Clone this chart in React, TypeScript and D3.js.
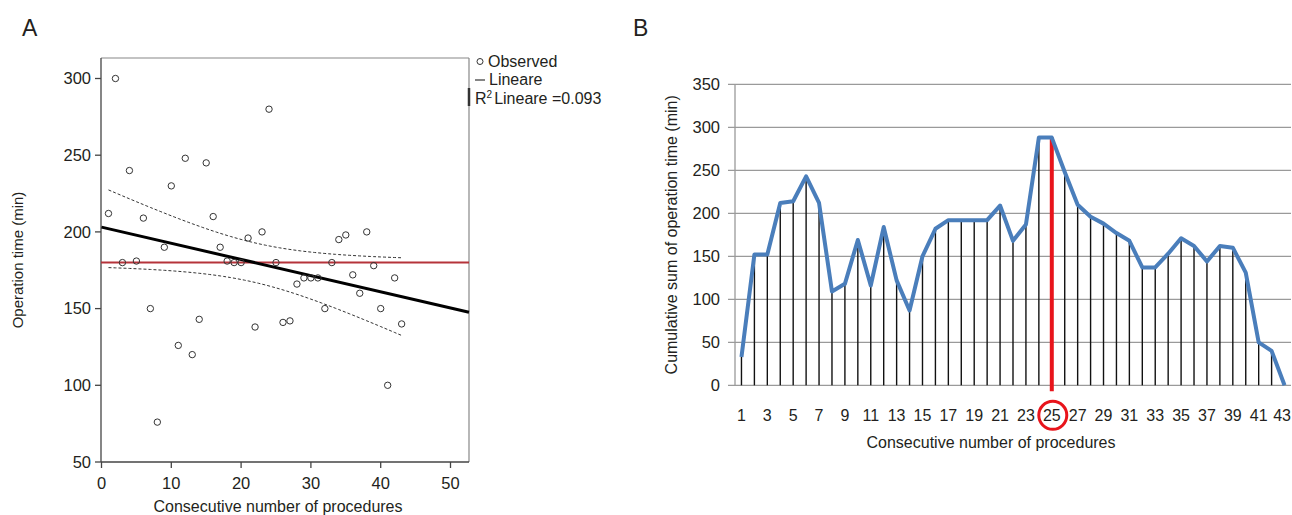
import React from 'react';
import * as d3 from 'd3';

// Panel A: observed operation time per consecutive procedure
const procedureNo = d3.range(1, 44);
const operationTime = [
  212, 300, 180, 240, 181, 209, 150, 76, 190, 230,
  126, 248, 120, 143, 245, 210, 190, 181, 180, 180,
  196, 138, 200, 280, 180, 141, 142, 166, 170, 170,
  170, 150, 180, 195, 198, 172, 160, 200, 178, 150,
  100, 170, 140,
];
const meanLine = 180;
const xTicksA = [0, 10, 20, 30, 40, 50];
const yTicksA = [50, 100, 150, 200, 250, 300];
const legendA = ['Observed', 'Lineare'];
const r2Text = 'Lineare =0.093';

// Panel B: cumulative sum of operation time
const cusum = [
  33, 152, 152, 212, 214, 243, 212, 109, 118, 169,
  116, 184, 122, 87, 150, 182, 192, 192, 192, 192,
  209, 168, 187, 288, 288, 248, 210, 196, 188, 177,
  168, 137, 137, 153, 171, 162, 144, 162, 160, 131,
  50, 40, 0,
];
const yTicksB = [0, 50, 100, 150, 200, 250, 300, 350];
const cutoffProcedure = 25;

const FONT = '"Liberation Sans", Arial, sans-serif';
const TXT = '#231f20';

// simple least squares fit + 95% CI of the mean
function fitLine(xs: number[], ys: number[]) {
  const n = xs.length;
  const mx = d3.mean(xs) as number;
  const my = d3.mean(ys) as number;
  let sxx = 0, sxy = 0;
  xs.forEach((x, i) => { sxx += (x - mx) ** 2; sxy += (x - mx) * (ys[i] - my); });
  const b = sxy / sxx;
  const a = my - b * mx;
  let sse = 0;
  xs.forEach((x, i) => { sse += (ys[i] - (a + b * x)) ** 2; });
  const s = Math.sqrt(sse / (n - 2));
  const t = 2.0195; // df = 41
  const half = (x: number) => t * s * Math.sqrt(1 / n + (x - mx) ** 2 / sxx);
  return { a, b, half };
}

function PanelA() {
  const left = 101, right = 469, top = 58, bottom = 462;
  const x = d3.scaleLinear().domain([0, 50]).range([101.5, 450.5]);
  const y = d3.scaleLinear().domain([50, 300]).range([462, 78.5]);
  const xMax = x.invert(right);

  const fit = fitLine(procedureNo, operationTime);
  const grid = d3.range(1, 43.01, 0.5);
  const upper = d3.line<number>().x(d => x(d)).y(d => y(fit.a + fit.b * d + fit.half(d)));
  const lower = d3.line<number>().x(d => x(d)).y(d => y(fit.a + fit.b * d - fit.half(d)));

  return (
    <g>
      <text x={22} y={36} fontSize={23} fill={TXT} fontFamily={FONT}>A</text>
      {/* frame */}
      <line x1={left} x2={right} y1={top} y2={top} stroke="#888" strokeWidth={1.2} />
      <line x1={right} x2={right} y1={top} y2={bottom} stroke="#888" strokeWidth={1.2} />
      <line x1={right} x2={right} y1={88} y2={106} stroke="#333" strokeWidth={2.5} />
      <line x1={left} x2={left} y1={top} y2={bottom} stroke="#444" strokeWidth={1.3} />
      <line x1={left} x2={right} y1={bottom} y2={bottom} stroke="#444" strokeWidth={1.3} />

      {yTicksA.map(t => (
        <g key={'ya' + t}>
          <line x1={left - 6} x2={left} y1={y(t)} y2={y(t)} stroke="#444" strokeWidth={1.3} />
          <text x={left - 10} y={y(t)} dy="0.35em" textAnchor="end" fontSize={16.5} fill={TXT} fontFamily={FONT}>{t}</text>
        </g>
      ))}
      {xTicksA.map(t => (
        <g key={'xa' + t}>
          <line x1={x(t)} x2={x(t)} y1={bottom} y2={bottom + 6} stroke="#444" strokeWidth={1.3} />
          <text x={x(t)} y={bottom + 27} textAnchor="middle" fontSize={16.5} fill={TXT} fontFamily={FONT}>{t}</text>
        </g>
      ))}

      <line x1={left} x2={right} y1={y(meanLine)} y2={y(meanLine)} stroke="#b5333a" strokeWidth={2} />

      <path d={upper(grid) || ''} fill="none" stroke="#333" strokeWidth={1} strokeDasharray="3,2" />
      <path d={lower(grid) || ''} fill="none" stroke="#333" strokeWidth={1} strokeDasharray="3,2" />
      <line x1={x(0)} x2={x(xMax)} y1={y(fit.a)} y2={y(fit.a + fit.b * xMax)} stroke="#000" strokeWidth={3} />

      {procedureNo.map((p, i) => (
        <circle key={'pt' + p} cx={x(p)} cy={y(operationTime[i])} r={3.2} fill="none" stroke="#333" strokeWidth={1} />
      ))}

      {/* legend */}
      <circle cx={480} cy={61.5} r={3} fill="none" stroke="#333" strokeWidth={1} />
      <text x={488} y={61.5} dy="0.35em" fontSize={16} fill={TXT} fontFamily={FONT}>{legendA[0]}</text>
      <line x1={475} x2={485} y1={80} y2={80} stroke="#333" strokeWidth={1.2} />
      <text x={489} y={79.5} dy="0.35em" fontSize={16} fill={TXT} fontFamily={FONT}>{legendA[1]}</text>
      <text x={475} y={98.5} dy="0.35em" fontSize={16} fill={TXT} fontFamily={FONT}>
        R<tspan fontSize={10} dy={-6}>2</tspan><tspan dy={6} dx={2}>{r2Text}</tspan>
      </text>

      <text transform={`translate(23,${(top + bottom) / 2}) rotate(-90)`} textAnchor="middle" fontSize={15} fill={TXT} fontFamily={FONT}>Operation time (min)</text>
      <text x={278} y={512} textAnchor="middle" fontSize={16} fill={TXT} fontFamily={FONT}>Consecutive number of procedures</text>
    </g>
  );
}

function PanelB() {
  const left = 735, right = 1291;
  const x = d3.scaleBand<number>().domain(procedureNo).range([left, right]);
  const y = d3.scaleLinear().domain([0, 350]).range([385.3, 84.3]);
  const cx = (p: number) => (x(p) as number) + x.bandwidth() / 2;
  const line = d3.line<number>().x((_, i) => cx(procedureNo[i])).y(d => y(d));
  const cutIdx = procedureNo.indexOf(cutoffProcedure);
  const lastNo = procedureNo[procedureNo.length - 1];

  return (
    <g>
      <text x={633} y={36} fontSize={23} fill={TXT} fontFamily={FONT}>B</text>
      {yTicksB.map(t => (
        <g key={'yb' + t}>
          <line x1={left - 7} x2={right} y1={y(t)} y2={y(t)} stroke="#9a9a9a" strokeWidth={1.3} />
          <text x={720} y={y(t)} dy="0.35em" textAnchor="end" fontSize={16.5} fill={TXT} fontFamily={FONT}>{t}</text>
        </g>
      ))}
      <line x1={left} x2={left} y1={y(350)} y2={y(0)} stroke="#9a9a9a" strokeWidth={1.3} />

      {cusum.map((v, i) => (
        <line key={'drop' + i} x1={cx(procedureNo[i])} x2={cx(procedureNo[i])} y1={y(v)} y2={y(0)} stroke="#111" strokeWidth={1.4} />
      ))}
      <line x1={cx(cutoffProcedure)} x2={cx(cutoffProcedure)} y1={y(cusum[cutIdx])} y2={y(0) + 6} stroke="#e8141b" strokeWidth={4} />

      <path d={line(cusum) || ''} fill="none" stroke="#4a7ebb" strokeWidth={4} strokeLinejoin="round" />

      {procedureNo.filter(p => p % 2 === 1).map(p => (
        p === lastNo
          ? <text key={'xb' + p} x={1291} y={y(0) + 36} textAnchor="end" fontSize={16} fill={TXT} fontFamily={FONT}>{p}</text>
          : <text key={'xb' + p} x={cx(p)} y={y(0) + 36} textAnchor="middle" fontSize={16} fill={TXT} fontFamily={FONT}>{p}</text>
      ))}
      <circle cx={cx(cutoffProcedure) + 1} cy={y(0) + 30} r={14} fill="none" stroke="#e8141b" strokeWidth={3} />

      <text transform={`translate(677,${(y(0) + y(350)) / 2}) rotate(-90)`} textAnchor="middle" fontSize={16} fill={TXT} fontFamily={FONT}>Cumulative sum of operation time (min)</text>
      <text x={991} y={448} textAnchor="middle" fontSize={16} fill={TXT} fontFamily={FONT}>Consecutive number of procedures</text>
    </g>
  );
}

export default function App() {
  return (
    <svg width={1292} height={515} style={{ position: 'absolute', left: 0, top: 0, background: '#fff' }}>
      <rect width={1292} height={515} fill="#fff" />
      <PanelA />
      <PanelB />
    </svg>
  );
}
